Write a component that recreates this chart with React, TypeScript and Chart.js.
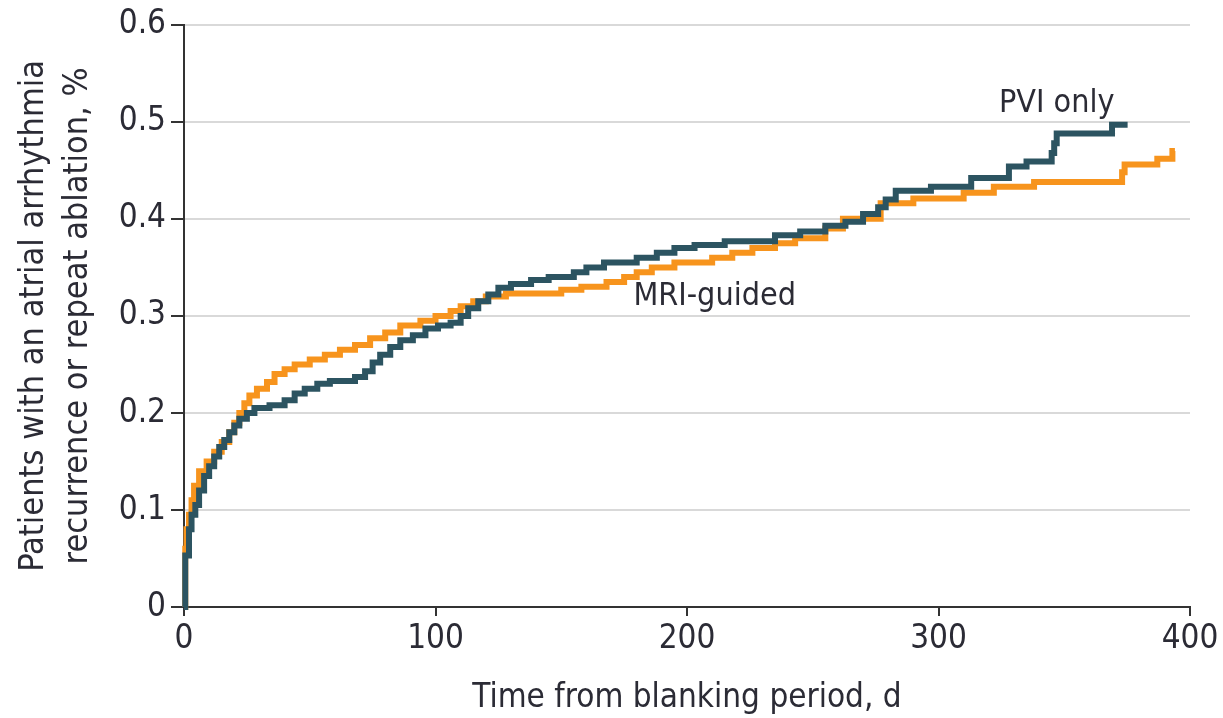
import React, { useEffect, useRef } from "react";
import Chart from "chart.js/auto";

const xTicks = [0, 100, 200, 300, 400];
const yTicks = [0, 0.1, 0.2, 0.3, 0.4, 0.5, 0.6];

const pviDays = [0, 0.5, 2, 3, 4.5, 6, 8, 10, 12, 14, 16, 18, 20, 22, 25, 28, 34, 40, 44, 48, 53, 58, 68, 72, 75, 78, 82, 86, 91, 96, 101, 106, 110, 113, 117, 121, 125, 130, 138, 145, 155, 160, 167, 180, 188, 195, 203, 215, 235, 245, 255, 263, 270, 276, 279, 283, 297, 313, 328, 335, 345, 346, 347, 369, 374];
const pviRisk = [0, 0.053, 0.08, 0.095, 0.105, 0.12, 0.135, 0.145, 0.155, 0.165, 0.172, 0.18, 0.187, 0.194, 0.2, 0.205, 0.208, 0.213, 0.22, 0.225, 0.23, 0.233, 0.237, 0.243, 0.252, 0.26, 0.268, 0.275, 0.28, 0.287, 0.29, 0.293, 0.3, 0.308, 0.315, 0.322, 0.329, 0.333, 0.337, 0.34, 0.345, 0.35, 0.355, 0.36, 0.365, 0.37, 0.373, 0.377, 0.383, 0.387, 0.393, 0.397, 0.405, 0.412, 0.42, 0.429, 0.433, 0.442, 0.454, 0.459, 0.468, 0.478, 0.488, 0.497, 0.5];

const mriDays = [0, 0.5, 1, 2, 3, 4, 6, 9, 12, 15, 18, 20, 22, 24, 26, 29, 33, 36, 40, 44, 50, 56, 62, 68, 74, 80, 86, 94, 100, 106, 110, 115, 120, 128, 150, 158, 168, 175, 180, 186, 195, 210, 218, 226, 235, 243, 255, 262, 277, 290, 310, 322, 338, 373, 374, 387, 393, 394];
const mriRisk = [0, 0.06, 0.08, 0.095, 0.11, 0.125, 0.14, 0.15, 0.16, 0.17, 0.18, 0.19, 0.2, 0.21, 0.218, 0.225, 0.232, 0.24, 0.245, 0.25, 0.255, 0.26, 0.265, 0.27, 0.277, 0.283, 0.29, 0.295, 0.3, 0.305, 0.31, 0.315, 0.32, 0.323, 0.327, 0.33, 0.335, 0.34, 0.345, 0.35, 0.355, 0.36, 0.365, 0.37, 0.375, 0.38, 0.39, 0.4, 0.416, 0.421, 0.427, 0.433, 0.438, 0.448, 0.456, 0.462, 0.47, 0.47];

const seriesLabels = ["PVI only", "MRI-guided"];
const xTitle = "Time from blanking period, d";
const yTitle = ["Patients with an atrial arrhythmia", "recurrence or repeat ablation, %"];

const FONT = "'DejaVu Sans Condensed', 'Liberation Sans Narrow', sans-serif";
const TEXT = "#2b2b35";
const DARK = "#2C5461";
const ORANGE = "#F7941D";

const labelPlugin = {
  id: "curveLabels",
  afterDatasetsDraw(chart: any) {
    const { ctx, scales } = chart;
    ctx.save();
    ctx.font = `32px ${FONT}`;
    ctx.fillStyle = TEXT;
    ctx.textAlign = "center";
    ctx.textBaseline = "middle";
    ctx.fillText(seriesLabels[0], scales.x.getPixelForValue(347), scales.y.getPixelForValue(0.519));
    ctx.fillText(seriesLabels[1], scales.x.getPixelForValue(211), scales.y.getPixelForValue(0.32));
    ctx.restore();
  },
};

export default function App() {
  const ref = useRef<HTMLCanvasElement>(null);
  useEffect(() => {
    document.body.style.margin = "0";
    const chart = new Chart(ref.current!, {
      type: "line",
      data: {
        datasets: [
          {
            label: seriesLabels[0],
            data: pviDays.map((d, i) => ({ x: d, y: pviRisk[i] })),
            borderColor: DARK,
            borderWidth: 6,
            pointRadius: 0,
            stepped: "before",
            borderJoinStyle: "miter",
            clip: 8,
          },
          {
            label: seriesLabels[1],
            data: mriDays.map((d, i) => ({ x: d, y: mriRisk[i] })),
            borderColor: ORANGE,
            borderWidth: 6,
            pointRadius: 0,
            stepped: "before",
            borderJoinStyle: "miter",
            clip: 8,
          },
        ],
      },
      options: {
        animation: false,
        responsive: false,
        layout: { padding: { left: 0, right: 33, top: 23, bottom: 0 } },
        plugins: { legend: { display: false }, tooltip: { enabled: false } },
        scales: {
          x: {
            type: "linear",
            min: 0,
            max: 400,
            afterBuildTicks: (s: any) => { s.ticks = xTicks.map((v) => ({ value: v })); },
            grid: { drawOnChartArea: false, drawTicks: true, tickLength: 9, tickColor: "#333", lineWidth: 2 },
            border: { color: "#333", width: 2 },
            ticks: { color: TEXT, font: { family: FONT, size: 33 }, padding: 4, maxRotation: 0 },
            title: { display: true, text: xTitle, color: TEXT, font: { family: FONT, size: 33 }, padding: { top: 4, bottom: 0 } },
            afterFit: (s: any) => { s.height = 111; },
          },
          y: {
            type: "linear",
            min: 0,
            max: 0.6,
            afterBuildTicks: (s: any) => { s.ticks = yTicks.map((v) => ({ value: v })); },
            grid: { color: "#d9d9d9", lineWidth: 2, drawTicks: true, tickLength: 13, tickColor: "#333" },
            border: { color: "#333", width: 2 },
            ticks: {
              color: TEXT,
              font: { family: FONT, size: 33 },
              padding: 5,
              callback: (v: any) => (v === 0 ? "0" : Number(v).toFixed(1)),
            },
            title: { display: true, text: yTitle, color: TEXT, font: { family: FONT, size: 34, lineHeight: 1.27 }, padding: { top: 13, bottom: 0 } },
            afterFit: (s: any) => { s.width = 184; },
          },
        },
      },
      plugins: [labelPlugin],
    } as any);
    return () => chart.destroy();
  }, []);
  return <canvas ref={ref} width={1223} height={718} style={{ display: "block" }} />;
}
